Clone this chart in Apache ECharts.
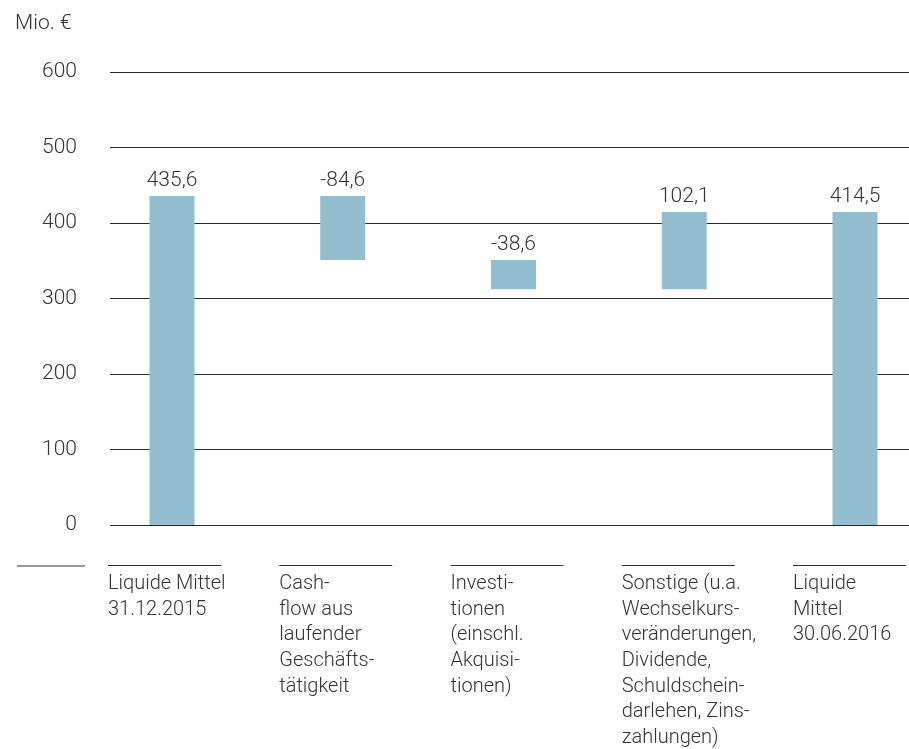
<!DOCTYPE html>
<html>
<head>
<meta charset="utf-8">
<script src="https://cdn.jsdelivr.net/npm/echarts@6/dist/echarts.min.js"></script>
<style>html,body{margin:0;padding:0;background:#fff}#c{width:909px;height:749px}</style>
</head>
<body>
<div id="c"></div>
<script>
const unitLabel = 'Mio. €';
const categories = [
  'Liquide Mittel\n31.12.2015',
  'Cash-\nflow aus\nlaufender\nGeschäfts-\ntätigkeit',
  'Investi-\ntionen\n(einschl.\nAkquisi-\ntionen)',
  'Sonstige (u.a.\nWechselkurs-\nveränderungen,\nDividende,\nSchuldschein-\ndarlehen, Zins-\nzahlungen)',
  'Liquide\nMittel\n30.06.2016'
];
const changes = [435.6, -84.6, -38.6, 102.1, 414.5];
const isTotal = [true, false, false, false, true];
const yMin = 0, yMax = 600, yInterval = 100;

// waterfall construction
const base = [], height = [];
let run = 0;
changes.forEach((v, i) => {
  if (isTotal[i]) { base.push(0); height.push(v); run = v; }
  else if (v >= 0) { base.push(run); height.push(v); run += v; }
  else { run += v; base.push(run); height.push(-v); }
});
const fmt = v => v.toFixed(1).replace('.', ',');

const TXT = '#333333';
const FONT = 'Roboto';
const W = 300;
const chart = echarts.init(document.getElementById('c'));
chart.setOption({
  animation: false,
  title: { text: unitLabel, left: 10, top: 8, textStyle: { fontFamily: FONT, fontSize: 21, fontWeight: W, color: TXT } },
  grid: [
    { left: 110, right: 0, top: 72, bottom: 224 },
    { left: 172, right: 54, top: 72, bottom: 224 },
    { left: 108, right: 110, top: 72, bottom: 224 }
  ],
  xAxis: [
    { gridIndex: 0, type: 'category', data: categories, show: false },
    { gridIndex: 1, type: 'category', data: categories, boundaryGap: false, show: false },
    { gridIndex: 2, type: 'category', data: categories, boundaryGap: false,
      axisLine: { show: false }, axisTick: { show: false },
      axisLabel: {
        interval: 0, margin: 40, align: 'left', verticalAlign: 'top',
        formatter: v => '{l|}\n{g|}\n' + v.split('\n').map(s => '{t|' + s + '}').join('\n'),
        rich: {
          l: { width: 113, height: 1, lineHeight: 1, backgroundColor: '#333' },
          g: { height: 5, lineHeight: 5 },
          t: { fontFamily: FONT, fontSize: 20, fontWeight: W, lineHeight: 25.7, color: TXT, align: 'left' }
        }
      }
    }
  ],
  yAxis: [
    { gridIndex: 0, type: 'value', min: yMin, max: yMax, interval: yInterval,
      axisLine: { show: false }, axisTick: { show: false },
      axisLabel: { margin: 33, fontFamily: FONT, fontSize: 21, fontWeight: W, color: TXT },
      splitLine: { lineStyle: { color: '#2b2b2b', width: 1.2 } } },
    { gridIndex: 1, type: 'value', min: yMin, max: yMax, interval: yInterval, show: false, splitLine: { show: false } },
    { gridIndex: 2, type: 'value', min: yMin, max: yMax, interval: yInterval, show: false, splitLine: { show: false } }
  ],
  graphic: [
    { type: 'line', shape: { x1: 17, y1: 566, x2: 85, y2: 566 }, style: { stroke: '#333', lineWidth: 1.2 } }
  ],
  series: [
    { type: 'bar', xAxisIndex: 1, yAxisIndex: 1, stack: 'w', data: base, barWidth: 45,
      itemStyle: { color: 'transparent' }, silent: true },
    { type: 'bar', xAxisIndex: 1, yAxisIndex: 1, stack: 'w', data: height, barWidth: 45,
      itemStyle: { color: '#95bdd0' },
      label: { show: true, position: 'top', distance: 5, fontFamily: FONT, fontSize: 21, fontWeight: W, color: TXT,
        formatter: p => fmt(changes[p.dataIndex]) } }
  ]
});
</script>
</body>
</html>
